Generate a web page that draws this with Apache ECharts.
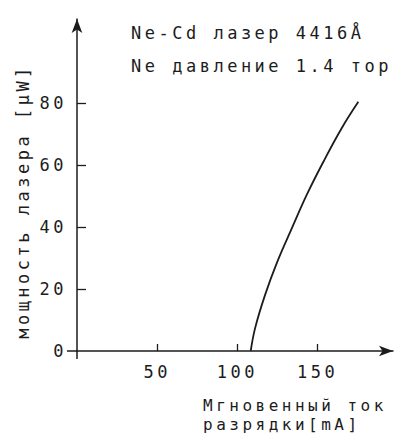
<!DOCTYPE html>
<html>
<head>
<meta charset="utf-8">
<script src="https://cdn.jsdelivr.net/npm/echarts@6/dist/echarts.min.js"></script>
<style>
  html, body { margin: 0; padding: 0; background: #ffffff; }
  #chart { width: 398px; height: 441px; }
  #chart text { letter-spacing: 3.5px; }
</style>
</head>
<body>
<div id="chart"></div>
<script>
// Data
const current = [108.3, 111.0, 117.2, 124.9, 133.9, 143.2, 153.6, 165.0, 175.4]; // mA
const power   = [0, 7.3, 18.0, 28.8, 39.5, 50.3, 61.0, 71.8, 80.3];               // µW
const xTicks = [50, 100, 150];
const yTicks = [0, 20, 40, 60, 80];
const titleLines = ['Ne-Cd лазер 4416Å', 'Ne давление 1.4 тор'];
const xName = ['Мгновенный ток', 'разрядки[mA]'];
const yName = 'мощность лазера [μW]';

const ink = '#1c1c1c';
const font = "'DejaVu Sans Mono', 'Liberation Mono', monospace";
const fs = 17;

const chart = echarts.init(document.getElementById('chart'), null, { renderer: 'svg' });

const seriesData = current.map((c, i) => [c, power[i]]);

const txt = { fontFamily: font, fontSize: fs, fontWeight: 'normal', color: ink };
const txtSmall = { fontFamily: font, fontSize: 16, fontWeight: 'normal', color: ink };

chart.setOption({
  backgroundColor: '#ffffff',
  animation: false,
  textStyle: { fontFamily: font, color: ink },
  title: [
    { text: titleLines[0], left: 131, top: 24, padding: 0, textStyle: Object.assign({ lineHeight: 17 }, txt) },
    { text: titleLines[1], left: 131, top: 57, padding: 0, textStyle: Object.assign({ lineHeight: 17 }, txt) },
    { text: xName[0], left: 203, top: 397, padding: 0, textStyle: Object.assign({ lineHeight: 16 }, txtSmall) },
    { text: xName[1], left: 203, top: 416, padding: 0, textStyle: Object.assign({ lineHeight: 16 }, txtSmall) }
  ],
  grid: { left: 77, right: 5, top: 19, bottom: 90, containLabel: false },
  xAxis: [
    {
      type: 'value', min: 0, max: 197, position: 'bottom',
      splitLine: { show: false },
      axisLine: { show: true, onZero: false, lineStyle: { color: ink, width: 1.5 },
        symbol: ['none', 'arrow'], symbolSize: [8, 14] },
      axisTick: { show: true, inside: true, length: 7, customValues: xTicks, lineStyle: { color: ink, width: 1.3 } },
      axisLabel: { customValues: xTicks, margin: 12, fontFamily: font, fontSize: fs, color: ink }
    },
    {
      type: 'value', min: 0, max: 197, position: 'bottom',
      splitLine: { show: false },
      axisLine: { show: false, onZero: false },
      axisTick: { show: true, inside: false, length: 8, customValues: [0], lineStyle: { color: ink, width: 1.5 } },
      axisLabel: { show: false }
    }
  ],
  yAxis: [
    {
      type: 'value', min: 0, max: 107, position: 'left',
      splitLine: { show: false },
      axisLine: { show: true, onZero: false, lineStyle: { color: ink, width: 1.5 },
        symbol: ['none', 'arrow'], symbolSize: [8, 14] },
      axisTick: { show: true, inside: true, length: 9, customValues: [20, 40, 60, 80], lineStyle: { color: ink, width: 1.3 } },
      axisLabel: { customValues: yTicks, margin: 10, fontFamily: font, fontSize: fs, color: ink },
      name: yName, nameLocation: 'middle', nameGap: 46, nameRotate: 90,
      nameTextStyle: { fontFamily: font, fontSize: fs, color: ink, padding: [0, 33, 0, 0] }
    },
    {
      type: 'value', min: 0, max: 107, position: 'left',
      splitLine: { show: false },
      axisLine: { show: false, onZero: false },
      axisTick: { show: true, inside: false, length: 10, customValues: [0], lineStyle: { color: ink, width: 1.5 } },
      axisLabel: { show: false }
    }
  ],
  series: [
    {
      type: 'line',
      xAxisIndex: 0, yAxisIndex: 0,
      data: seriesData,
      smooth: 0.4,
      showSymbol: false,
      lineStyle: { color: ink, width: 1.8 }
    }
  ]
});
</script>
</body>
</html>
